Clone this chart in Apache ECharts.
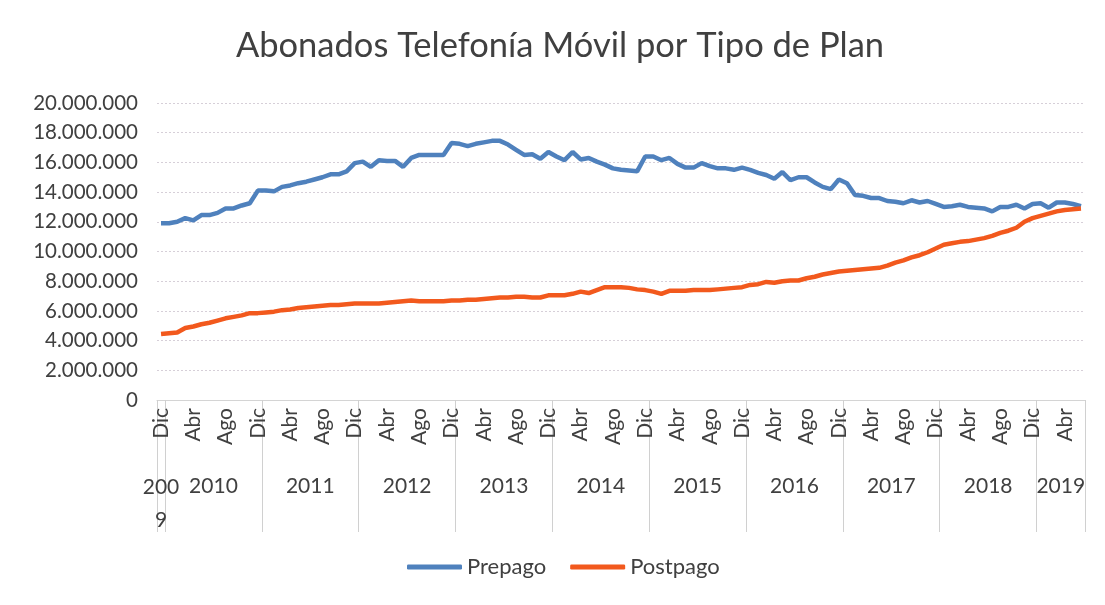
<!DOCTYPE html>
<html>
<head>
<meta charset="utf-8">
<script src="https://cdn.jsdelivr.net/npm/echarts@6/dist/echarts.min.js"></script>
<style>
  html, body { margin: 0; padding: 0; background: #ffffff; }
  #chart { width: 1105px; height: 605px; }
</style>
</head>
<body>
<div id="chart"></div>
<script>
// monthly series, Dic 2009 .. Jun 2019, values in millions of subscribers
const monthNames = ['Ene', 'Feb', 'Mar', 'Abr', 'May', 'Jun', 'Jul', 'Ago', 'Sep', 'Oct', 'Nov', 'Dic']
const firstYear = 2009
const firstMonth = 11   // Dic
const monthCount = 115

const prepago = [
  11.9,
  11.9, 12.0, 12.25, 12.1, 12.45, 12.45, 12.6, 12.9, 12.9, 13.1, 13.25, 14.1,
  14.1, 14.05, 14.35, 14.45, 14.6, 14.7, 14.85, 15.0, 15.2, 15.2, 15.4, 15.95,
  16.05, 15.7, 16.15, 16.1, 16.1, 15.7, 16.3, 16.5, 16.5, 16.5, 16.5, 17.3,
  17.25, 17.1, 17.25, 17.35, 17.45, 17.45, 17.2, 16.85, 16.5, 16.55, 16.25, 16.7,
  16.4, 16.15, 16.7, 16.2, 16.3, 16.05, 15.85, 15.6, 15.5, 15.45, 15.4, 16.4,
  16.4, 16.15, 16.3, 15.9, 15.65, 15.65, 15.95, 15.75, 15.6, 15.6, 15.5, 15.65,
  15.5, 15.3, 15.15, 14.9, 15.35, 14.8, 15.0, 15.0, 14.65, 14.35, 14.2, 14.85,
  14.6, 13.8, 13.75, 13.6, 13.6, 13.4, 13.35, 13.25, 13.45, 13.3, 13.4, 13.2,
  13.0, 13.05, 13.15, 13.0, 12.95, 12.9, 12.7, 13.0, 13.0, 13.15, 12.9, 13.2,
  13.25, 12.95, 13.3, 13.3, 13.2, 13.05
]

const postpago = [
  4.45,
  4.5, 4.55, 4.85, 4.95, 5.1, 5.2, 5.35, 5.5, 5.6, 5.7, 5.85, 5.85,
  5.9, 5.95, 6.05, 6.1, 6.2, 6.25, 6.3, 6.35, 6.4, 6.4, 6.45, 6.5,
  6.5, 6.5, 6.5, 6.55, 6.6, 6.65, 6.7, 6.65, 6.65, 6.65, 6.65, 6.7,
  6.7, 6.75, 6.75, 6.8, 6.85, 6.9, 6.9, 6.95, 6.95, 6.9, 6.9, 7.05,
  7.05, 7.05, 7.15, 7.3, 7.2, 7.4, 7.6, 7.6, 7.6, 7.55, 7.45, 7.4,
  7.3, 7.15, 7.35, 7.35, 7.35, 7.4, 7.4, 7.4, 7.45, 7.5, 7.55, 7.6,
  7.75, 7.8, 7.95, 7.9, 8.0, 8.05, 8.05, 8.2, 8.3, 8.45, 8.55, 8.65,
  8.7, 8.75, 8.8, 8.85, 8.9, 9.05, 9.25, 9.4, 9.6, 9.75, 9.95, 10.2,
  10.45, 10.55, 10.65, 10.7, 10.8, 10.9, 11.05, 11.25, 11.4, 11.6, 12.0, 12.25,
  12.4, 12.55, 12.7, 12.8, 12.85, 12.9
]

// category list "Mes Año"
const periods = []
for (let i = 0; i < monthCount; i++) {
  const m = (firstMonth + i) % 12
  const y = firstYear + Math.floor((firstMonth + i) / 12)
  periods.push(monthNames[m] + ' ' + y)
}
const yearOf = i => periods[i].split(' ')[1]

// first index of each year (for separators) and the label slot in its middle
const yearStarts = new Set()
const yearLabelAt = {}
let start = 0
for (let i = 1; i <= monthCount; i++) {
  if (i === monthCount || yearOf(i) !== yearOf(start)) {
    const mid = (start + i - 1) / 2
    yearLabelAt[Math.floor(mid)] = { year: yearOf(start), half: mid % 1 !== 0 }
    if (i < monthCount) yearStarts.add(i)
    start = i
  }
}

const font = 'Lato, "Open Sans", sans-serif'
const textColor = '#404040'
const dotted = n => String(n).replace(/\B(?=(\d{3})+(?!\d))/g, '.')

const chart = echarts.init(document.getElementById('chart'))
chart.setOption({
  backgroundColor: '#ffffff',
  animation: false,
  title: {
    text: 'Abonados Telefonía Móvil por Tipo de Plan',
    left: 555,
    textAlign: 'center',
    top: 23,
    textStyle: { fontFamily: font, fontSize: 34.5, fontWeight: 'normal', color: textColor },
  },
  legend: {
    bottom: 22,
    left: 402,
    icon: 'roundRect',
    itemWidth: 55,
    itemHeight: 5,
    itemGap: 24,
    textStyle: { fontFamily: font, fontSize: 22, color: textColor },
  },
  grid: { left: 157, right: 20, top: 103, bottom: 205 },
  xAxis: [
    {
      type: 'category',
      data: periods,
      boundaryGap: true,
      axisLine: { lineStyle: { color: '#d4d4d4' } },
      axisTick: { show: false },
      axisLabel: {
        interval: i => i % 4 === 0,
        rotate: 90,
        margin: 8,
        formatter: v => v.split(' ')[0],
        fontFamily: font,
        fontSize: 21,
        color: textColor,
      },
    },
    {
      type: 'category',
      data: periods,
      position: 'bottom',
      boundaryGap: true,
      axisLine: { show: false },
      axisTick: {
        show: true,
        interval: i => i === 0 || yearStarts.has(i),
        length: 132,
        lineStyle: { color: '#d0d0d0' },
      },
      axisLabel: {
        interval: i => yearLabelAt[i] !== undefined,
        margin: 76,
        formatter: (v, i) => {
          const y = yearLabelAt[i].year
          if (yearLabelAt[i].half) return '{h|' + y + '}'
          return '{a|' + y.slice(0, 3) + '}\n{b|' + y.slice(3) + '}'
        },
        rich: {
          h: { fontFamily: font, fontSize: 21, color: textColor, padding: [0, 0, 0, 8] },
          a: { fontFamily: font, fontSize: 21, color: textColor, lineHeight: 22 },
          b: { fontFamily: font, fontSize: 21, color: textColor, lineHeight: 44 },
        },
      },
    },
  ],
  yAxis: {
    type: 'value',
    min: 0,
    max: 20000000,
    interval: 2000000,
    axisLine: { show: false },
    axisTick: { show: false },
    splitLine: { lineStyle: { color: '#d6cfd8', type: [2, 2] } },
    axisLabel: {
      margin: 19,
      formatter: dotted,
      fontFamily: font,
      fontSize: 20.5,
      color: textColor,
    },
  },
  series: [
    {
      name: 'Prepago',
      type: 'line',
      xAxisIndex: 0,
      data: prepago.map(v => Math.round(v * 1e6)),
      showSymbol: false,
      lineStyle: { width: 4.5, color: '#4f81bd' },
      itemStyle: { color: '#4f81bd' },
    },
    {
      name: 'Postpago',
      type: 'line',
      xAxisIndex: 1,
      data: postpago.map(v => Math.round(v * 1e6)),
      showSymbol: false,
      lineStyle: { width: 4.5, color: '#f2591d' },
      itemStyle: { color: '#f2591d' },
    },
  ],
})
</script>
</body>
</html>
